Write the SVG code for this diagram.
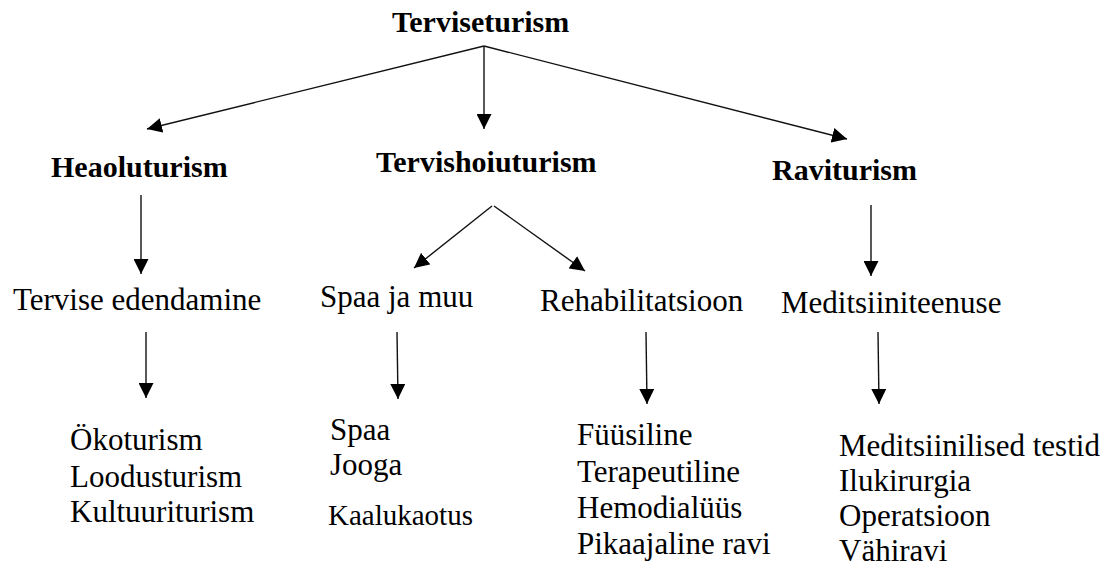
<svg xmlns="http://www.w3.org/2000/svg" width="1118" height="566" viewBox="0 0 1118 566">
<style>
text{font-family:"Liberation Serif",Tinos,"Times New Roman","DejaVu Serif",serif;fill:#000}
.h{font-weight:bold;font-size:30px}
.t{font-size:31px}
.s{font-size:29px}
.c line{stroke:#111;stroke-width:1.4;fill:none;marker-end:url(#ah)}
</style>
<defs>
<marker id="ah" markerUnits="userSpaceOnUse" markerWidth="15" markerHeight="15" refX="15" refY="7.5" orient="auto" viewBox="0 0 15 15">
<path d="M0,0 L15,7.5 L0,15 z" fill="#000"/>
</marker>
</defs>
<rect width="1118" height="566" fill="#fff"/>
<g id="connectors" class="c">
<line x1="484" y1="46" x2="147" y2="129"/>
<line x1="484" y1="46" x2="484" y2="129"/>
<line x1="484" y1="46" x2="847" y2="139"/>
<line x1="141" y1="195" x2="141" y2="274"/>
<line x1="492" y1="206" x2="414" y2="268"/>
<line x1="494" y1="206" x2="585" y2="271"/>
<line x1="871" y1="205" x2="871" y2="276"/>
<line x1="146" y1="332" x2="146" y2="398"/>
<line x1="397" y1="332" x2="398" y2="399"/>
<line x1="646" y1="332" x2="647" y2="404"/>
<line x1="878" y1="332" x2="879" y2="404"/>
</g>
<g id="n-terviseturism"><text class="h" x="392" y="32">Terviseturism</text></g>
<g id="n-heaoluturism"><text class="h" x="51" y="177">Heaoluturism</text></g>
<g id="n-tervishoiuturism"><text class="h" x="376" y="172">Tervishoiuturism</text></g>
<g id="n-raviturism"><text class="h" x="772" y="180">Raviturism</text></g>
<g id="n-tervise-edendamine"><text class="t" x="13" y="310">Tervise edendamine</text></g>
<g id="n-spaa-ja-muu"><text class="t" x="320" y="307">Spaa ja muu</text></g>
<g id="n-rehabilitatsioon"><text class="t" x="540" y="311">Rehabilitatsioon</text></g>
<g id="n-meditsiiniteenuse"><text class="t" x="781" y="313">Meditsiiniteenuse</text></g>
<g id="n-list1">
<text class="t" x="70" y="450">Ökoturism</text>
<text class="t" x="70" y="487">Loodusturism</text>
<text class="t" x="70" y="522">Kultuurituris<tspan>m</tspan></text>
</g>
<g id="n-list2">
<text class="t" x="330" y="440">Spaa</text>
<text class="t" x="330" y="475">Jooga</text>
<text class="s" x="328" y="525">Kaalukaotus</text>
</g>
<g id="n-list3">
<text class="t" x="577" y="445">Füüsiline</text>
<text class="t" x="577" y="482">Terapeutiline</text>
<text class="t" x="577" y="518">Hemodialüüs</text>
<text class="t" x="577" y="554">Pikaajaline ravi</text>
</g>
<g id="n-list4">
<text class="t" x="839" y="456">Meditsiinilised testid</text>
<text class="t" x="839" y="491">Ilukirurgia</text>
<text class="t" x="839" y="526">Operatsioon</text>
<text class="t" x="839" y="561">Vähiravi</text>
</g>
</svg>
